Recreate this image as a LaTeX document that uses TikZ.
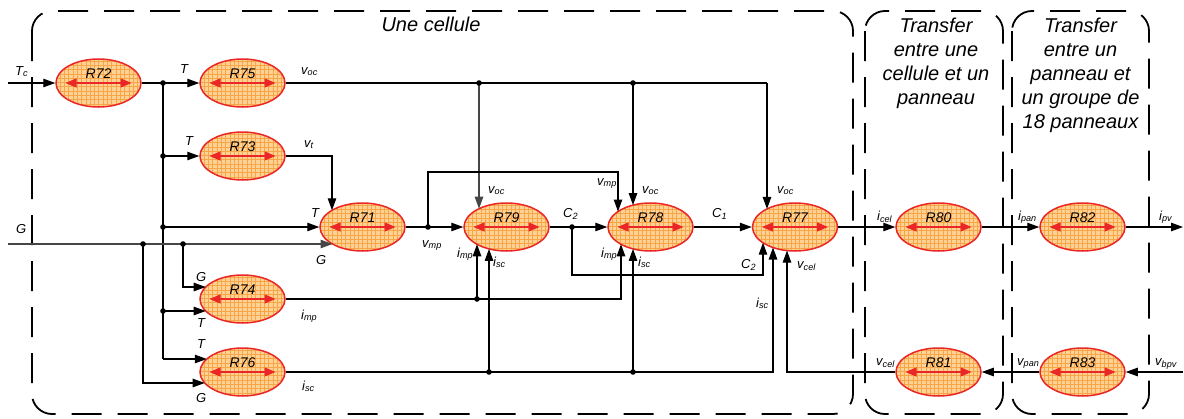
\documentclass[tikz,border=0pt]{standalone}
\usepackage{fontspec}
\setmainfont{Liberation Sans}
\usetikzlibrary{arrows.meta,shapes.geometric,calc}
\definecolor{efill}{RGB}{254,210,148}
\definecolor{egrid}{RGB}{247,165,70}
\definecolor{ered}{RGB}{234,38,38}
\definecolor{gline}{RGB}{70,70,70}
\newcommand{\sg}[2]{#1\textsubscript{#2}}
\begin{document}
\begin{tikzpicture}[x=1pt,y=-1pt,
  rnode/.style={ellipse, draw=ered, line width=1.5pt, fill=efill,
    minimum width=85pt, minimum height=48pt, inner sep=0pt,
    font=\itshape\fontsize{14}{14}\selectfont, text height=0pt, text depth=10pt,
    path picture={
      \draw[egrid, line width=0.3pt, step=4.3pt] (path picture bounding box.south west) grid (path picture bounding box.north east);
      \draw[ered, line width=1.3pt, {Triangle[length=11pt,width=9pt]}-{Triangle[length=11pt,width=9pt]}]
        ([xshift=-33pt]path picture bounding box.center) -- ([xshift=33pt]path picture bounding box.center);
    }},
  conn/.style={line width=1.1pt, black},
  gconn/.style={line width=1.1pt, gline},
  arr/.style={-{Triangle[length=12pt,width=8.5pt]}},
  lbl/.style={font=\itshape\fontsize{13}{13}\selectfont, inner sep=0pt, anchor=base west},
  ttl/.style={font=\itshape\fontsize{20}{24}\selectfont, inner sep=0pt, align=center},
  boxstyle/.style={draw, line width=1.8pt, dash pattern=on 30pt off 16pt, rounded corners=20pt}
]
\useasboundingbox (0,0) rectangle (1184,418);

% dashed groups
\draw[boxstyle] (32,11) rectangle (853,414);
\draw[boxstyle] (865,11) rectangle (1003,414);
\draw[boxstyle] (1012,11) rectangle (1149,414);
\node[ttl, anchor=base] (t1) at (431,31) {Une cellule};
\node[ttl, anchor=north] (t2) at (936,17.4) {Transfer\\entre une\\cellule et un\\panneau};
\node[ttl, anchor=north] (t3) at (1080.5,17.4) {Transfer\\entre un\\panneau et\\un groupe de\\18 panneaux};

% blocks
\node[rnode] (R72) at (98.5,83) {R72};
\node[rnode] (R75) at (242.5,83) {R75};
\node[rnode] (R73) at (242.5,156) {R73};
\node[rnode] (R71) at (362.5,227) {R71};
\node[rnode] (R79) at (506.5,227) {R79};
\node[rnode] (R78) at (650.5,227) {R78};
\node[rnode] (R77) at (795,227) {R77};
\node[rnode] (R80) at (938.5,227) {R80};
\node[rnode] (R82) at (1082.5,227) {R82};
\node[rnode] (R74) at (242.5,299) {R74};
\node[rnode] (R76) at (242.5,372) {R76};
\node[rnode] (R81) at (938.5,372) {R81};
\node[rnode] (R83) at (1082.5,372) {R83};

% entry points on the ellipses
\coordinate (e71top) at ($(R71.center)+(-30.5,-16.7)$);
\coordinate (e71G) at ($(R71.center)+(-30,17)$);
\coordinate (e79top) at ($(R79.center)+(-27.5,-18.3)$);
\coordinate (e79imp) at ($(R79.center)+(-29.5,17.3)$);
\coordinate (e79isc) at ($(R79.center)+(-17.5,21.9)$);
\coordinate (e78vmp) at ($(R78.center)+(-32.5,-15.5)$);
\coordinate (e78top) at ($(R78.center)+(-17.5,-21.9)$);
\coordinate (e78imp) at ($(R78.center)+(-29.5,17.3)$);
\coordinate (e78isc) at ($(R78.center)+(-17.5,21.9)$);
\coordinate (e77top) at ($(R77.center)+(-28,-18.1)$);
\coordinate (e77C2) at ($(R77.center)+(-32,15.7)$);
\coordinate (e77isc) at ($(R77.center)+(-22,20.5)$);
\coordinate (e77vcel) at ($(R77.center)+(-8,23.6)$);
\coordinate (e74G) at ($(R74.center)+(-36.8,-12)$);
\coordinate (e74T) at ($(R74.center)+(-36.8,12)$);
\coordinate (e76T) at ($(R76.center)+(-35.7,-13)$);
\coordinate (e76G) at ($(R76.center)+(-37.8,11)$);

% free ends, junctions and corners
\coordinate (inTc) at (8,83);
\coordinate (inG) at (8,244);
\coordinate (outpv) at (1183,227);
\coordinate (inbpv) at (1183,372);
\coordinate (j1) at (163,83);
\coordinate (j2) at (j1 |- R73);
\coordinate (j3) at (j1 |- R71);
\coordinate (j4) at (j1 |- e74T);
\coordinate (c1) at (j1 |- e76T);
\coordinate (jg1) at (143,244);
\coordinate (jg2) at (183,244);
\coordinate (jv1) at (e79top |- R75);
\coordinate (jv2) at (e78top |- R75);
\coordinate (cv3) at (e77top |- R75);
\coordinate (jm) at (428,227);
\coordinate (cm1) at (428,172);
\coordinate (jc) at (572,227);
\coordinate (cc1) at (572,275);
\coordinate (ji) at (e79imp |- R74);
\coordinate (ci) at (e78imp |- R74);
\coordinate (js1) at (e79isc |- R76);
\coordinate (js2) at (e78isc |- R76);
\coordinate (cs) at (e77isc |- R76);
\coordinate (cvc) at (e77vcel |- R81);

% connectors
\draw[conn,arr] (inTc) -- (R72.west);
\draw[conn] (R72.east) -- (j1);
\draw[conn,arr] (j1) -- (R75.west);
\draw[conn] (j1) -- (c1);
\draw[conn,arr] (j2) -- (R73.west);
\draw[conn,arr] (j3) -- (R71.west);
\draw[conn,arr] (j4) -- (e74T);
\draw[conn,arr] (c1) -- (e76T);
\draw[gconn,arr] (inG) -- (e71G);
\draw[conn,arr] (jg2) |- (e74G);
\draw[conn,arr] (jg1) |- (e76G);
\draw[conn] (R75.east) -- (cv3);
\draw[conn,arr] (cv3) -- (e77top);
\draw[gconn,arr] (jv1) -- (e79top);
\draw[conn,arr] (jv2) -- (e78top);
\draw[conn,arr] (R73.east) -| (e71top);
\draw[conn,arr] (R71.east) -- (R79.west);
\draw[conn,arr] (jm) -- (cm1) -| (e78vmp);
\draw[conn,arr] (R79.east) -- (R78.west);
\draw[conn,arr] (jc) -- (cc1) -| (e77C2);
\draw[conn,arr] (R78.east) -- (R77.west);
\draw[conn,arr] (R77.east) -- (R80.west);
\draw[conn,arr] (R80.east) -- (R82.west);
\draw[conn,arr] (R82.east) -- (outpv);
\draw[conn,arr] (inbpv) -- (R83.east);
\draw[conn,arr] (R83.west) -- (R81.east);
\draw[conn,arr] (R81.west) -- (cvc) -- (e77vcel);
\draw[conn,arr] (R74.east) -- (ci) -- (e78imp);
\draw[conn,arr] (ji) -- (e79imp);
\draw[conn,arr] (R76.east) -- (cs) -- (e77isc);
\draw[conn,arr] (js1) -- (e79isc);
\draw[conn,arr] (js2) -- (e78isc);

% junction dots
\foreach \p in {j1,j2,j3,j4,jg1,jg2,jv1,jv2,jm,jc,ji,js1,js2}
  \fill (\p) circle (2.8pt);

% signal labels
\node[lbl] (lTc) at (15,75) {\sg{T}{c}};
\node[lbl] (lG0) at (16,233) {G};
\node[lbl] (lT75) at (180,73) {T};
\node[lbl] (lT73) at (185,145) {T};
\node[lbl] (lvoc75) at (301,74) {\sg{v}{oc}};
\node[lbl] (lvt) at (304,147) {\sg{v}{t}};
\node[lbl] (lT71) at (311,217) {T};
\node[lbl] (lG71) at (316,264) {G};
\node[lbl] (lG74) at (196,281) {G};
\node[lbl] (lT74) at (197,327) {T};
\node[lbl] (lT76) at (197,348) {T};
\node[lbl] (lG76) at (196,402) {G};
\node[lbl] (limp74) at (301,319) {\sg{i}{mp}};
\node[lbl] (lisc76) at (302,390) {\sg{i}{sc}};
\node[lbl] (lvmp71) at (422,247) {\sg{v}{mp}};
\node[lbl] (lvoc79) at (488,193) {\sg{v}{oc}};
\node[lbl] (limp79) at (457,257) {\sg{i}{mp}};
\node[lbl] (lisc79) at (493,266) {\sg{i}{sc}};
\node[lbl] (lC2a) at (563,217) {\sg{C}{2}};
\node[lbl] (lvmp78) at (597,185) {\sg{v}{mp}};
\node[lbl] (lvoc78) at (642,193) {\sg{v}{oc}};
\node[lbl] (limp78) at (601,257) {\sg{i}{mp}};
\node[lbl] (lisc78) at (638,266) {\sg{i}{sc}};
\node[lbl] (lC1) at (712,217) {\sg{C}{1}};
\node[lbl] (lvoc77) at (777,193) {\sg{v}{oc}};
\node[lbl] (lC2b) at (741,268) {\sg{C}{2}};
\node[lbl] (lisc77) at (756,307) {\sg{i}{sc}};
\node[lbl] (lvcel77) at (797,268) {\sg{v}{cel}};
\node[lbl] (licel) at (877,220) {\sg{i}{cel}};
\node[lbl] (lipan) at (1018,220) {\sg{i}{pan}};
\node[lbl] (lipv) at (1159,220) {\sg{i}{pv}};
\node[lbl] (lvcel81) at (876,365) {\sg{v}{cel}};
\node[lbl] (lvpan) at (1017,365) {\sg{v}{pan}};
\node[lbl] (lvbpv) at (1155,365) {\sg{v}{bpv}};
\end{tikzpicture}
\end{document}
